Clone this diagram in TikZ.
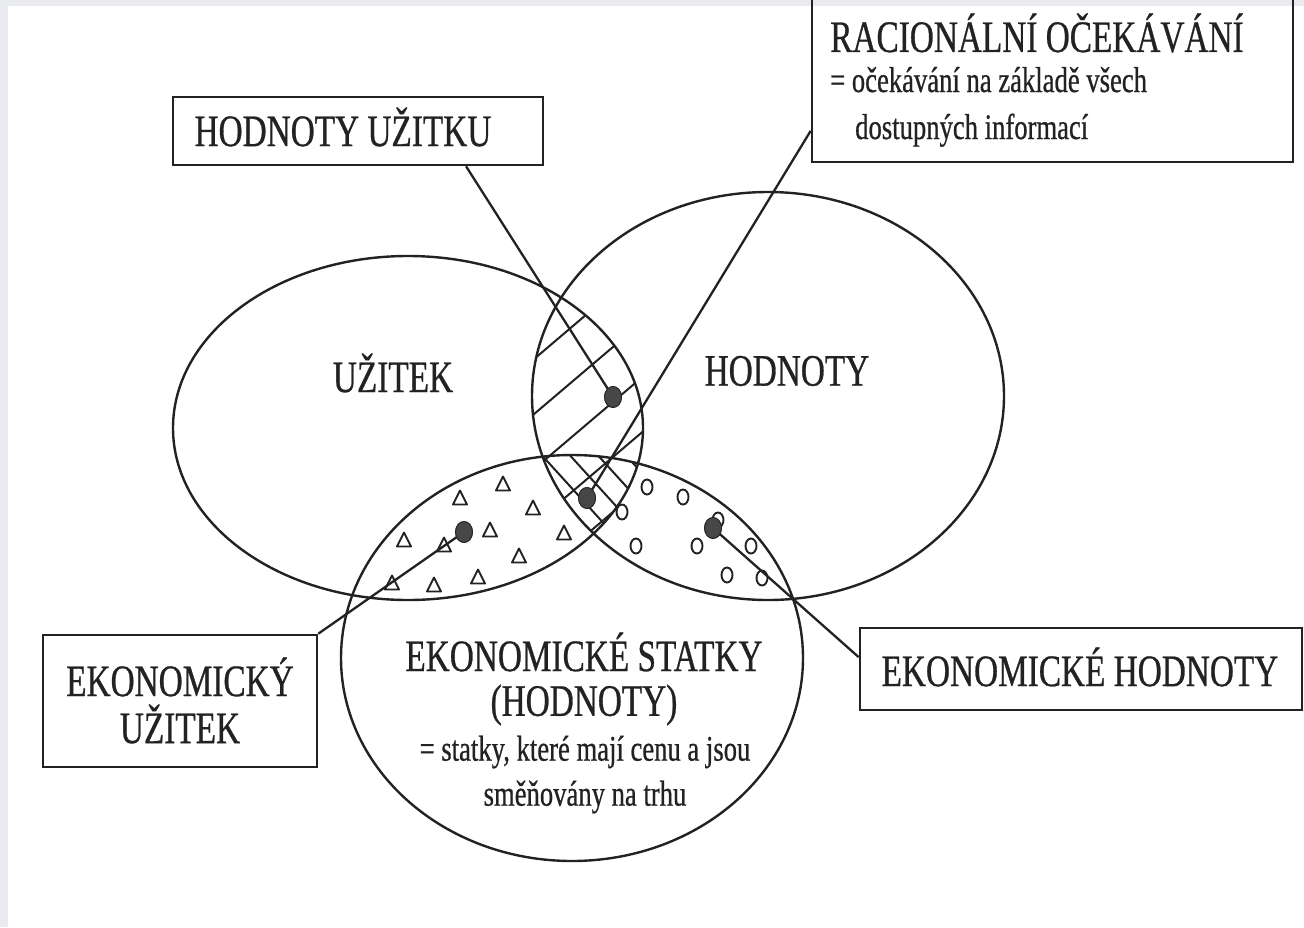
\documentclass[tikz,border=0pt]{standalone}
\usepackage{fontspec}
\setmainfont[FakeStretch=0.74,FakeBold=0.6]{Liberation Serif}
\usetikzlibrary{shapes.geometric,calc}
\definecolor{ink}{HTML}{222222}
\definecolor{dotfill}{HTML}{474747}
\definecolor{scanedge}{HTML}{E9EBEE}
\newcommand{\bigtxt}{\fontsize{45}{45}\selectfont}
\newcommand{\smalltxt}{\fontsize{36}{45}\selectfont}
\begin{document}
\begin{tikzpicture}[x=1pt,y=-1pt,
  curve/.style={draw=ink,line width=2.4pt},
  hatch/.style={draw=ink,line width=2pt},
  labelbox/.style={draw=ink,line width=2.6pt,rectangle,inner sep=0pt},
  link/.style={draw=ink,line width=2.3pt},
  blob/.style={ellipse,fill=dotfill,draw=ink,line width=0.8pt,minimum width=17pt,minimum height=21pt,inner sep=0pt},
  tristyle/.style={draw=ink,line width=1.9pt,line join=round},
  ringstyle/.style={draw=ink,line width=1.9pt},
  big/.style={text=ink,font=\bigtxt,inner sep=0pt},
  small/.style={text=ink,font=\smalltxt,inner sep=0pt}]
\useasboundingbox (0,0) rectangle (1304,927);
\fill[white] (0,0) rectangle (1304,927);
% faint edge of the scanned sheet
\fill[scanedge] (0,0) rectangle (1304,6);
\fill[scanedge] (0,0) rectangle (8,927);

% ellipse centres and radii
\def\Lx{408}\def\Ly{428}\def\Lrx{235pt}\def\Lry{172pt}
\def\Rx{768}\def\Ry{396}\def\Rrx{236pt}\def\Rry{204pt}
\def\Bx{572}\def\By{658}\def\Brx{231pt}\def\Bry{203pt}

% hatching of the overlap of the upper two sets
\begin{scope}
  \clip (\Lx,\Ly) ellipse [x radius=\Lrx, y radius=\Lry];
  \clip (\Rx,\Ry) ellipse [x radius=\Rrx, y radius=\Rry];
  \foreach \c in {168,223,278,333,388,443,498,553,608,663}
    \draw[hatch] (500,\c) -- ++(200,-170);
  % cross lines where all three sets meet
  \clip (\Bx,\By) ellipse [x radius=\Brx, y radius=\Bry];
  \foreach \c in {528,556,584,612}
    \draw[hatch] (\c,440) -- ++(100,110);
\end{scope}

% the three sets
\draw[curve] (\Lx,\Ly) ellipse [x radius=\Lrx, y radius=\Lry];
\draw[curve] (\Rx,\Ry) ellipse [x radius=\Rrx, y radius=\Rry];
\draw[curve] (\Bx,\By) ellipse [x radius=\Brx, y radius=\Bry];

% triangles: utility that is traded
\foreach \x/\y in {503/484,460/498,533/508,490/530,404/540,444/545,564/533,519/556,478/577,434/585,392/583}
  \draw[tristyle] (\x,\y) ++(0,-7.5) -- ++(7,14) -- ++(-14,0) -- cycle;
% small rings: values that are traded
\foreach \x/\y in {647/487,683/497,622/512,718/520,636/546,697/546,751/546,727/575,762/578}
  \draw[ringstyle] (\x,\y) ellipse [x radius=5.5pt, y radius=7.5pt];

% set names
\node[big] (uz) at (393,373) {UŽITEK};
\node[big] (ho) at (787,371) {HODNOTY};
\node[big] (es1) at (584,652) {EKONOMICKÉ STATKY};
\node[big] (es2) at (584,705) {(HODNOTY)};
\node[small] (es3) at (585,752) {= statky, které mají cenu a jsou};
\node[small] (es4) at (585,797) {směňovány na trhu};

% label boxes
\node[labelbox,minimum width=370pt,minimum height=68pt] (huBox) at (358,131) {};
\node[big] (huTxt) at (343,127) {HODNOTY UŽITKU};
\node[labelbox,minimum width=481pt,minimum height=182pt] (rcBox) at (1052.5,71) {};
\node[big] (rcTxt) at (1037,33) {RACIONÁLNÍ OČEKÁVÁNÍ};
\node[small,anchor=base west] (rcL1) at (830,92) {= očekávání na základě všech};
\node[small,anchor=base west] (rcL2) at (855,139) {dostupných informací};
\node[labelbox,minimum width=274pt,minimum height=132pt] (euBox) at (180,701) {};
\node[big] (euL1) at (180,677) {EKONOMICKÝ};
\node[big] (euL2) at (180,724) {UŽITEK};
\node[labelbox,minimum width=442pt,minimum height=82pt] (ehBox) at (1081,669) {};
\node[big] (ehTxt) at (1080,667) {EKONOMICKÉ HODNOTY};

% marked elements
\node[blob] (d1) at (613,397) {};
\node[blob] (d2) at (587,498) {};
\node[blob] (d3) at (464,532) {};
\node[blob] (d4) at (713,528) {};

% pointers from the boxes to the marked elements
\draw[link] ($(huBox.south west)!0.79!(huBox.south east)$) -- (d1.center);
\draw[link] ($(rcBox.north west)!0.824!(rcBox.south west)$) -- (d2.center);
\draw[link] (euBox.north east) -- (d3.center);
\draw[link] ($(ehBox.north west)!0.36!(ehBox.south west)$) -- (d4.center);
\node[blob] at (d1) {};
\node[blob] at (d2) {};
\node[blob] at (d3) {};
\node[blob] at (d4) {};
\end{tikzpicture}
\end{document}
